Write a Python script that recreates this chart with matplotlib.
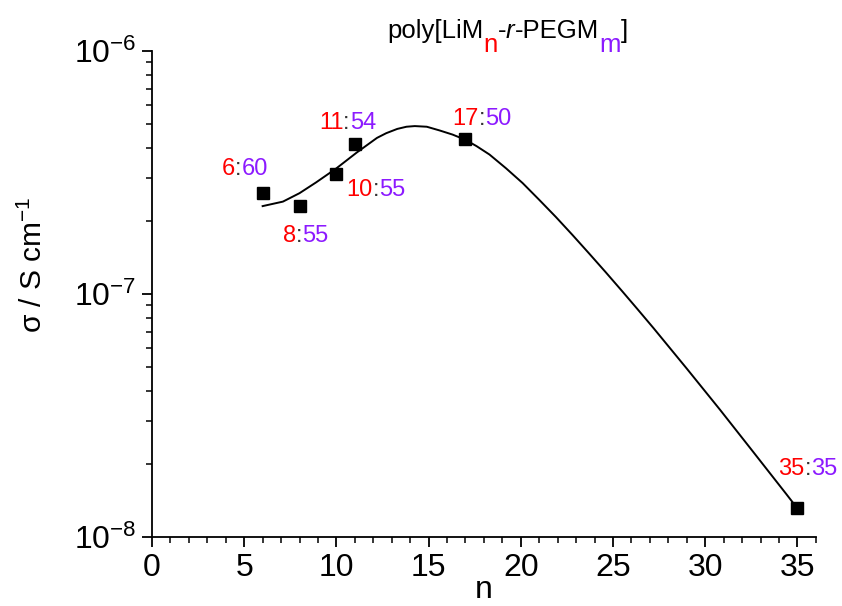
import matplotlib
matplotlib.use("Agg")
import matplotlib.pyplot as plt
from matplotlib.ticker import FixedLocator, LogLocator, NullFormatter

plt.rcParams['font.family'] = ['Liberation Sans', 'DejaVu Sans']
plt.rcParams['mathtext.fontset'] = 'custom'
plt.rcParams['mathtext.rm'] = 'Liberation Sans'
plt.rcParams['mathtext.it'] = 'Liberation Sans:italic'
plt.rcParams['axes.unicode_minus'] = False

RED = '#ff0000'
PURPLE = '#8c1aff'

# measured points: n (LiM units), m (PEGM units), conductivity
n_vals = [6, 8, 10, 11, 17, 35]
m_vals = [60, 55, 55, 54, 50, 35]
sigma = [2.60e-7, 2.30e-7, 3.12e-7, 4.14e-7, 4.35e-7, 1.31e-8]

# guide curve
fit_n = [6.0, 7.1, 8.0, 8.9, 10.0, 11.1, 12.2, 12.7, 13.3, 13.8, 14.25,
         14.9, 15.6, 16.3, 17.0, 17.6, 18.3, 19.2, 20.1, 21.0, 21.9, 22.8,
         23.7, 24.6, 25.5, 26.3, 27.2, 29.0, 30.8, 32.6, 34.4, 35.0]
fit_sigma = [2.30e-7, 2.40e-7, 2.60e-7, 2.88e-7, 3.29e-7, 3.82e-7, 4.39e-7,
             4.59e-7, 4.78e-7, 4.88e-7, 4.91e-7, 4.88e-7, 4.71e-7, 4.53e-7,
             4.31e-7, 4.06e-7, 3.75e-7, 3.29e-7, 2.86e-7, 2.44e-7, 2.075e-7,
             1.75e-7, 1.469e-7, 1.23e-7, 1.026e-7, 8.71e-8, 7.23e-8, 4.93e-8,
             3.34e-8, 2.24e-8, 1.50e-8, 1.31e-8]

# label offsets (pixels) from each point: left edge / baseline
label_dx = [-41, -17, 10, -36, -13, -19]
label_dy = [18, -36, -22, 15, 14, 33]


def rich_text(ax, xy, xycoords, pieces, offset=(0, 0), size=16.5):
    """Draw pieces (text, color, style, dy) one after the other."""
    prev = None
    prev_dy = 0
    for s, color, style, dy in pieces:
        if prev is None:
            t = ax.annotate(s, xy=xy, xycoords=xycoords,
                            xytext=(offset[0], offset[1] + dy),
                            textcoords='offset pixels', color=color,
                            fontstyle=style, fontsize=size,
                            ha='left', va='baseline', annotation_clip=False)
        else:
            t = ax.annotate(s, xy=(1, 0), xycoords=prev,
                            xytext=(0, dy - prev_dy),
                            textcoords='offset pixels', color=color,
                            fontstyle=style, fontsize=size,
                            ha='left', va='bottom', annotation_clip=False)
        prev = t
        prev_dy = dy
    return prev


fig = plt.figure(figsize=(8.42, 6.06), dpi=100)
ax = fig.add_axes([0.1805, 0.1139, 0.969 - 0.1805, 0.9158 - 0.1139])

ax.plot(fit_n, fit_sigma, color='black', lw=1.4, zorder=2)
ax.plot(n_vals, sigma, ls='none', marker='s', ms=8.2, color='black', zorder=3)

ax.set_yscale('log')
ax.set_xlim(0, 36)
ax.set_ylim(1e-8, 1e-6)

ax.xaxis.set_major_locator(FixedLocator([0, 5, 10, 15, 20, 25, 30, 35]))
ax.xaxis.set_minor_locator(FixedLocator(range(0, 37)))
ax.yaxis.set_major_locator(LogLocator(base=10, numticks=10))
ax.yaxis.set_minor_locator(LogLocator(base=10, subs=range(2, 10), numticks=20))
ax.yaxis.set_minor_formatter(NullFormatter())

for side in ['top', 'right']:
    ax.spines[side].set_visible(False)
for side in ['left', 'bottom']:
    ax.spines[side].set_linewidth(1.3)

ax.tick_params(which='major', direction='out', length=7.5, width=1.3,
               labelsize=23, pad=4)
ax.tick_params(which='minor', direction='out', length=4, width=1.1)

# axis labels
fig.text(484 / 842, 0.5 / 606, 'n', fontsize=23, ha='center', va='bottom')
fig.text(33 / 842, 1 - 265 / 606, r'σ / S cm$^{-1}$', fontsize=21.5,
         rotation=90, ha='center', va='center')

# point labels n:m
for n, m, s, dx, dy in zip(n_vals, m_vals, sigma, label_dx, label_dy):
    rich_text(ax, (n, s), 'data',
              [(str(n), RED, 'normal', 0),
               (':', '#333333', 'normal', 0),
               (str(m), PURPLE, 'normal', 0)],
              offset=(dx, dy), size=17)

# title with coloured subscripts
rich_text(ax, (387, 606 - 38), 'figure pixels',
          [('poly[LiM', 'black', 'normal', 0),
           ('n', RED, 'normal', -14),
           ('-', 'black', 'normal', 0),
           ('r', 'black', 'italic', 0),
           ('-PEGM', 'black', 'normal', 0),
           ('m', PURPLE, 'normal', -14),
           (']', 'black', 'normal', 0)],
          size=18.5)

fig.savefig('out.png', dpi=100)
